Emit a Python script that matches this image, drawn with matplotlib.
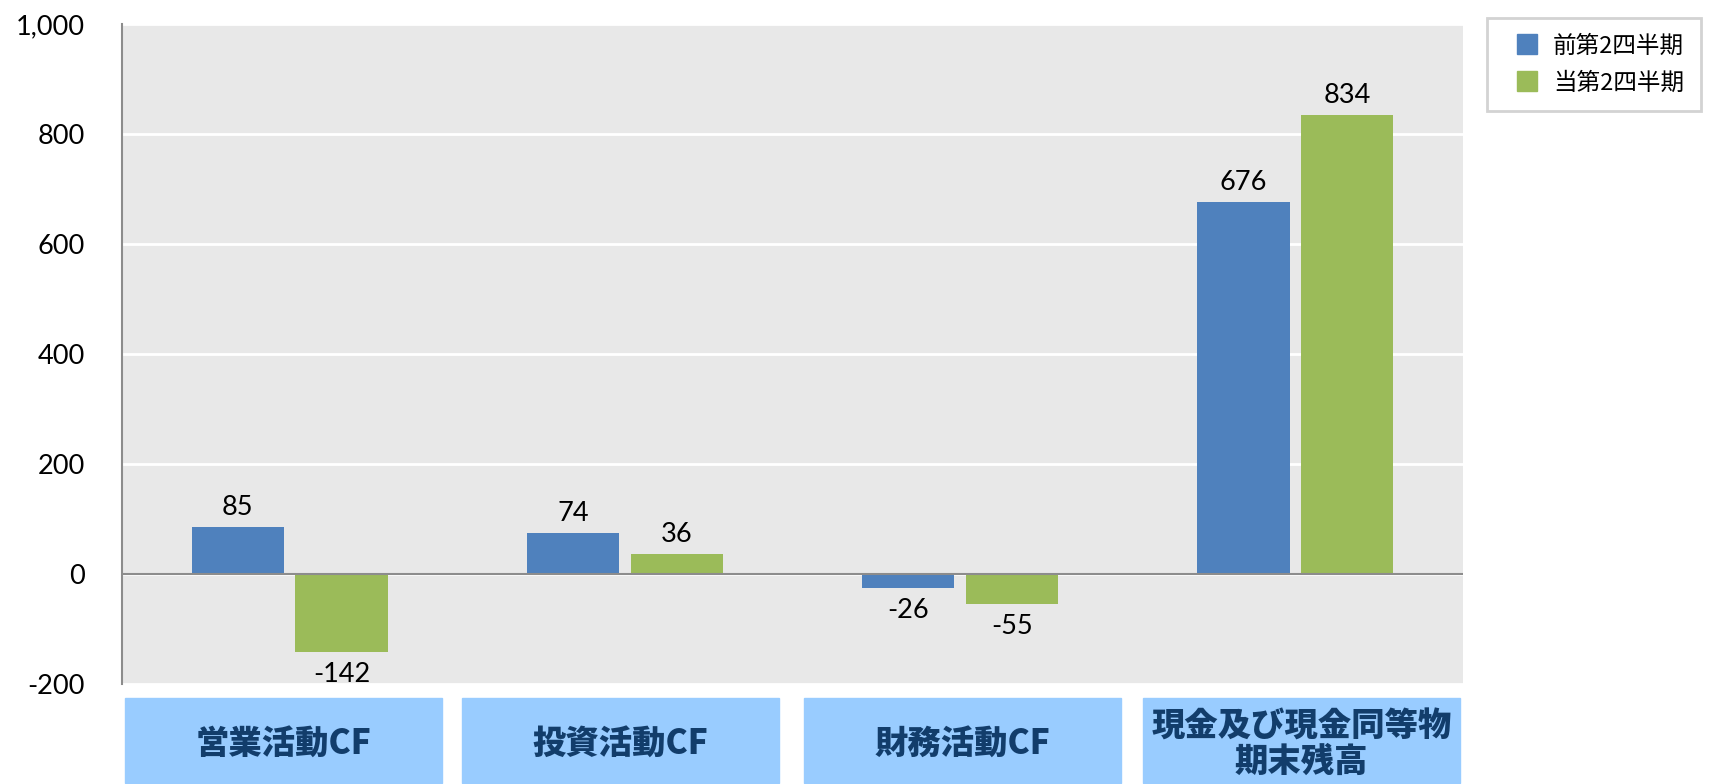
import numpy as np
import matplotlib
matplotlib.use('Agg')
import matplotlib.pyplot as plt
from matplotlib.ticker import FuncFormatter
from matplotlib.lines import Line2D
from matplotlib.patches import Rectangle

categorias = ['営業活動CF', '投資活動CF', '財務活動CF', '現金及び現金同等物\n期末残高']
series = ['前第2四半期', '当第2四半期']
valores_anterior = [85, 74, -26, 676]
valores_atual = [-142, 36, -55, 834]
cores = ['#4F81BD', '#9BBB59']
yticks = [-200, 0, 200, 400, 600, 800, 1000]

W, H = 1710, 784
# caixas das categorias (pixels: esquerda, largura)
caixas_x = [125, 462, 804, 1143]
caixa_w = 317

plt.rcParams['font.family'] = ['Lato', 'Noto Sans CJK JP', 'DejaVu Sans']

fig = plt.figure(figsize=(W / 100, H / 100), dpi=100)
ax = fig.add_axes([122 / W, 100 / H, (1463 - 122) / W, 660 / H])
ax.set_facecolor('#E8E8E8')

x = np.arange(len(categorias))
largura = 0.275
desloc = 0.155
b1 = ax.bar(x - desloc, valores_anterior, largura, color=cores[0], zorder=3)
b2 = ax.bar(x + desloc, valores_atual, largura, color=cores[1], zorder=3)

for barras, vals in ((b1, valores_anterior), (b2, valores_atual)):
    for r, v in zip(barras, vals):
        cx = r.get_x() + r.get_width() / 2
        if v >= 0:
            ax.annotate(str(v), (cx, v), xytext=(0, 5), textcoords='offset points',
                        ha='center', va='bottom', fontsize=19.5)
        else:
            ax.annotate(str(v), (cx, v), xytext=(0, -7), textcoords='offset points',
                        ha='center', va='top', fontsize=19.5)

ax.set_xlim(-0.5, 3.5)
ax.set_ylim(-200, 1000)
ax.set_yticks(yticks)
ax.yaxis.set_major_formatter(FuncFormatter(lambda v, p: f'{int(v):,}'))
ax.tick_params(axis='y', length=0, pad=27, labelsize=19.5)
ax.set_xticks([])
ax.grid(axis='y', color='white', linewidth=2, zorder=1)
ax.axhline(0, color='#8C8C8C', linewidth=1.5, zorder=4)
for s in ['top', 'right', 'bottom']:
    ax.spines[s].set_visible(False)
ax.spines['left'].set_color('#8C8C8C')
ax.spines['left'].set_linewidth(1.5)

# caixas dos nomes das categorias
for px, nome in zip(caixas_x, categorias):
    fig.patches.append(Rectangle((px / W, 1 / H), caixa_w / W, 85 / H,
                                 transform=fig.transFigure, color='#99CCFF'))
    fig.text((px + caixa_w / 2) / W, 40 / H, nome, ha='center', va='center', fontsize=24,
             fontweight='heavy', color='#123D6B', family=['Noto Sans CJK JP'],
             linespacing=1.0)

handles = [Line2D([], [], marker='s', linestyle='', markersize=14, color=c) for c in cores]
leg = fig.legend(handles, series, loc='upper left', bbox_to_anchor=(1487 / W, 1 - 18 / H),
                 frameon=True, fancybox=False, prop={'family': ['Noto Sans CJK JP'], 'size': 17},
                 handletextpad=0.1, labelspacing=0.6, borderpad=0.7, borderaxespad=0)
leg.get_frame().set_edgecolor('#C8C8C8')
leg.get_frame().set_linewidth(2)

fig.savefig('out.png', dpi=100)
